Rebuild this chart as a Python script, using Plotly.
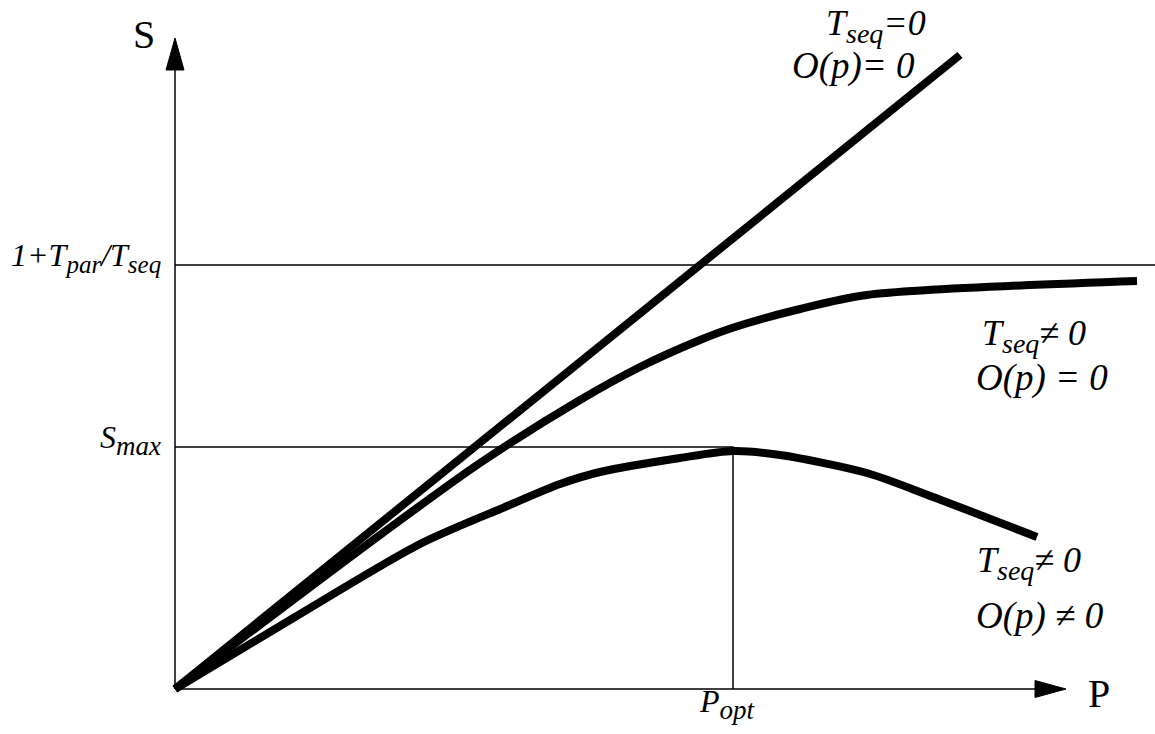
import plotly.graph_objects as go

# ---- data (arbitrary units, origin at the axes crossing) ----
P_ideal = [0, 785]
S_ideal = [0, 634]

P_noover = [0, 205, 305, 405, 465, 525, 560, 625, 692, 962]
S_noover = [0, 154, 226, 289, 322, 349, 362, 380, 394, 408]

P_over = [0, 120, 245, 330, 385, 425, 505, 558, 605, 692, 758, 862]
S_over = [0, 72, 145, 182, 205, 217, 231, 238, 234, 216, 192, 152]

S_limit = 424      # 1 + Tpar/Tseq
S_max = 242
P_opt = 558

FONT = "Liberation Serif"
BLACK = "black"

fig = go.Figure()

def curve(px, sy, w=8, shape="spline"):
    fig.add_trace(go.Scatter(x=px, y=sy, mode="lines",
                             line=dict(color=BLACK, width=w, shape=shape, smoothing=0.8),
                             showlegend=False, hoverinfo="skip"))

curve(P_ideal, S_ideal, shape="linear")
curve(P_noover, S_noover)
curve(P_over, S_over)

# thin reference lines
fig.add_trace(go.Scatter(x=[0, 1000], y=[S_limit, S_limit], mode="lines",
                         line=dict(color=BLACK, width=1.5), showlegend=False, hoverinfo="skip"))
fig.add_trace(go.Scatter(x=[0, P_opt, P_opt], y=[S_max, S_max, 0], mode="lines",
                         line=dict(color=BLACK, width=1.5), showlegend=False, hoverinfo="skip"))

# axes with arrows
XMAX, YMAX = 891, 651
fig.add_shape(type="line", x0=0, y0=0, x1=XMAX - 31, y1=0, line=dict(color=BLACK, width=1.5))
fig.add_shape(type="line", x0=0, y0=0, x1=0, y1=YMAX - 32, line=dict(color=BLACK, width=1.5))
fig.add_shape(type="path",
              path=f"M {XMAX-31},-8.5 L {XMAX},0 L {XMAX-31},8.5 Z",
              fillcolor=BLACK, line=dict(color=BLACK, width=1))
fig.add_shape(type="path",
              path=f"M -9,{YMAX-32} L 0,{YMAX} L 9,{YMAX-32} Z",
              fillcolor=BLACK, line=dict(color=BLACK, width=1))


def sub(s, size):
    return f"<sub><span style='font-size:{size}px'>{s}</span></sub>"


def label(x, y, text, size=28, xanchor="left", yanchor="middle", italic=True):
    t = f"<i>{text}</i>" if italic else text
    fig.add_annotation(x=x, y=y, text=t, showarrow=False, xanchor=xanchor, yanchor=yanchor,
                       font=dict(family=FONT, size=size, color=BLACK))

label(-31, 655, "S", size=40, xanchor="center", italic=False)
label(924, -4, "P", size=40, xanchor="center", italic=False)

label(-12, 432, "1+T" + sub("par", 25) + "/T" + sub("seq", 25), size=32, xanchor="right")
label(-12, 249, "S" + sub("max", 27), size=32, xanchor="right")
label(552, -15, "P" + sub("opt", 27), size=32, xanchor="center")

label(649, 663, "T" + sub("seq", 28) + "=0", size=36)
label(615, 623, "O(p)= 0", size=37)
label(805, 353, "T" + sub("seq", 28) + "≠ 0", size=36)
label(799, 311, "O(p) = 0", size=37)
label(800, 126, "T" + sub("seq", 28) + "≠ 0", size=36)
label(799, 73, "O(p) ≠ 0", size=37)

fig.update_layout(
    width=1155, height=734,
    margin=dict(l=0, r=0, t=0, b=0),
    paper_bgcolor="white", plot_bgcolor="white",
    xaxis=dict(range=[-175, 980], visible=False, fixedrange=True),
    yaxis=dict(range=[-45, 689], visible=False, fixedrange=True),
    showlegend=False,
)

fig.write_html("out.html", config={"displayModeBar": False},
               post_script="document.body.style.margin='0';document.body.style.overflow='hidden';")
